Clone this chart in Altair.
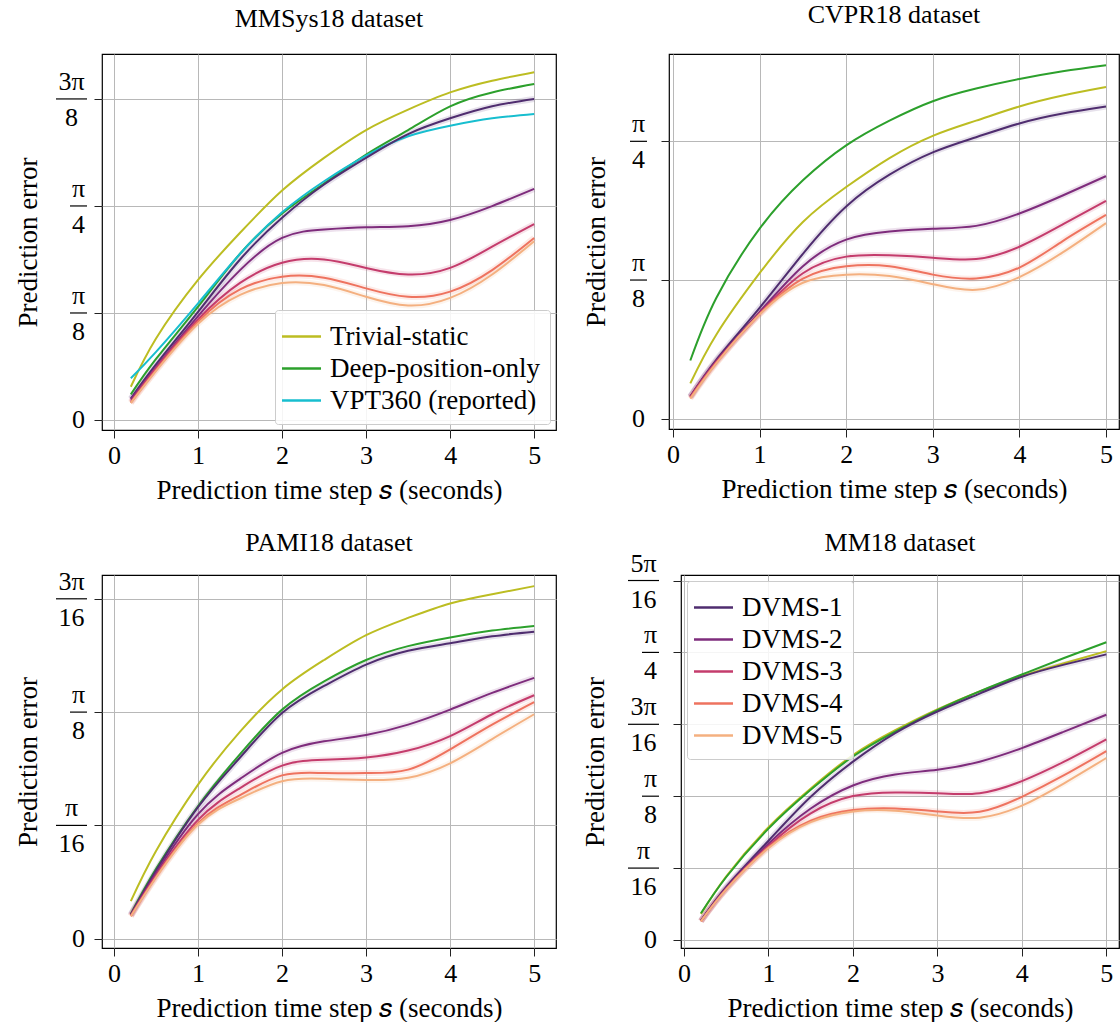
import math
import altair as alt
import pandas as pd

FONT = "Liberation Serif"

TIME = [0.2, 0.5, 1, 1.5, 2, 2.5, 3, 3.5, 4, 4.5, 5]
SERIES = ["Trivial-static", "Deep-position-only", "VPT360 (reported)",
          "DVMS-1", "DVMS-2", "DVMS-3", "DVMS-4", "DVMS-5"]
COLORS = ["#bcbd22", "#2ca02c", "#17becf",
          "#4f2d6f", "#7e2c7c", "#c43c6c", "#ee735f", "#f4b080"]

# ---- MMSys18 dataset (radians) ----
MMSYS_TRIVIAL = [0.122, 0.299, 0.514, 0.687, 0.842, 0.962, 1.064, 1.139, 1.202, 1.245, 1.276]
MMSYS_DEEP = [0.094, 0.224, 0.416, 0.610, 0.758, 0.868, 0.974, 1.064, 1.151, 1.202, 1.233]
MMSYS_VPT360 = [0.153, 0.250, 0.428, 0.610, 0.762, 0.876, 0.970, 1.041, 1.080, 1.107, 1.123]
MMSYS_DVMS1 = [0.079, 0.204, 0.397, 0.589, 0.742, 0.864, 0.962, 1.049, 1.107, 1.151, 1.178]
MMSYS_DVMS2 = [0.075, 0.194, 0.381, 0.550, 0.668, 0.699, 0.707, 0.711, 0.734, 0.785, 0.848]
MMSYS_DVMS3 = [0.067, 0.190, 0.369, 0.503, 0.577, 0.589, 0.558, 0.534, 0.558, 0.636, 0.719]
MMSYS_DVMS4 = [0.063, 0.183, 0.361, 0.479, 0.526, 0.522, 0.483, 0.452, 0.471, 0.550, 0.668]
MMSYS_DVMS5 = [0.063, 0.180, 0.353, 0.459, 0.503, 0.495, 0.452, 0.420, 0.448, 0.534, 0.656]

# ---- CVPR18 dataset ----
CVPR_TRIVIAL = [0.100, 0.238, 0.412, 0.557, 0.656, 0.738, 0.801, 0.844, 0.884, 0.915, 0.939]
CVPR_DEEP = [0.165, 0.342, 0.538, 0.675, 0.774, 0.844, 0.899, 0.935, 0.962, 0.984, 1.001]
CVPR_DVMS1 = [0.063, 0.167, 0.314, 0.467, 0.601, 0.691, 0.754, 0.797, 0.836, 0.864, 0.884]
CVPR_DVMS2 = [0.063, 0.164, 0.302, 0.432, 0.507, 0.530, 0.538, 0.546, 0.581, 0.632, 0.687]
CVPR_DVMS3 = [0.061, 0.161, 0.298, 0.412, 0.459, 0.463, 0.456, 0.452, 0.487, 0.550, 0.617]
CVPR_DVMS4 = [0.059, 0.158, 0.296, 0.397, 0.432, 0.432, 0.408, 0.397, 0.428, 0.503, 0.577]
CVPR_DVMS5 = [0.057, 0.157, 0.295, 0.385, 0.408, 0.404, 0.381, 0.365, 0.401, 0.471, 0.554]

# ---- PAMI18 dataset ----
PAMI_TRIVIAL = [0.065, 0.152, 0.267, 0.359, 0.432, 0.483, 0.526, 0.556, 0.581, 0.597, 0.611]
PAMI_DEEP = [0.043, 0.121, 0.230, 0.320, 0.397, 0.446, 0.483, 0.507, 0.522, 0.534, 0.542]
PAMI_DVMS1 = [0.042, 0.118, 0.228, 0.314, 0.391, 0.438, 0.475, 0.499, 0.512, 0.524, 0.532]
PAMI_DVMS2 = [0.041, 0.114, 0.216, 0.277, 0.322, 0.342, 0.353, 0.371, 0.397, 0.426, 0.452]
PAMI_DVMS3 = [0.040, 0.110, 0.206, 0.261, 0.300, 0.310, 0.314, 0.326, 0.351, 0.389, 0.422]
PAMI_DVMS4 = [0.039, 0.107, 0.200, 0.249, 0.283, 0.287, 0.287, 0.293, 0.328, 0.371, 0.410]
PAMI_DVMS5 = [0.039, 0.106, 0.198, 0.243, 0.273, 0.277, 0.275, 0.279, 0.304, 0.346, 0.389]

# ---- MM18 dataset ----
MM_TRIVIAL = [0.071, 0.174, 0.308, 0.414, 0.505, 0.573, 0.630, 0.679, 0.721, 0.756, 0.789]
MM_DEEP = [0.073, 0.172, 0.304, 0.410, 0.501, 0.569, 0.628, 0.679, 0.725, 0.770, 0.813]
MM_DVMS1 = [0.053, 0.145, 0.271, 0.391, 0.487, 0.565, 0.624, 0.673, 0.719, 0.752, 0.780]
MM_DVMS2 = [0.052, 0.142, 0.263, 0.359, 0.422, 0.452, 0.465, 0.487, 0.524, 0.569, 0.615]
MM_DVMS3 = [0.051, 0.140, 0.257, 0.346, 0.393, 0.403, 0.401, 0.401, 0.434, 0.487, 0.548]
MM_DVMS4 = [0.051, 0.139, 0.253, 0.326, 0.355, 0.359, 0.351, 0.350, 0.391, 0.450, 0.516]
MM_DVMS5 = [0.051, 0.138, 0.251, 0.322, 0.351, 0.353, 0.340, 0.334, 0.367, 0.428, 0.497]

# ---- y tick labels (fractions of pi) ----
PI = math.pi
MMSYS_TICKS = [0, PI / 8, PI / 4, 3 * PI / 8]
MMSYS_NUM = ["0", "π", "π", "3π"]
MMSYS_DEN = ["", "8", "4", "8"]
CVPR_TICKS = [0, PI / 8, PI / 4]
CVPR_NUM = ["0", "π", "π"]
CVPR_DEN = ["", "8", "4"]
PAMI_TICKS = [0, PI / 16, PI / 8, 3 * PI / 16]
PAMI_NUM = ["0", "π", "π", "3π"]
PAMI_DEN = ["", "16", "8", "16"]
MM_TICKS = [0, PI / 16, PI / 8, 3 * PI / 16, PI / 4, 5 * PI / 16]
MM_NUM = ["0", "π", "π", "3π", "π", "5π"]
MM_DEN = ["", "16", "8", "16", "4", "16"]

X_TICKS = [0, 1, 2, 3, 4, 5]
X_TITLE = "Prediction time step 𝑠 (seconds)"
Y_TITLE = "Prediction error"


def panel(title, series, tick_vals, tick_num, tick_den, xdom, ydom, w, h,
          lab_off, ytitle_pad, title_off, legend_vals=None, legend_orient=None):
    rows = []
    for name, vals in series.items():
        for t, v in zip(TIME, vals):
            rows.append({"t": t, "err": v, "series": name})
    df = pd.DataFrame(rows)
    ticks = pd.DataFrame({"err": tick_vals, "num": tick_num, "den": tick_den})

    xs = alt.Scale(domain=xdom, nice=False, zero=False)
    ys = alt.Scale(domain=ydom, nice=False, zero=False)
    X = alt.X("t:Q", scale=xs,
              axis=alt.Axis(values=X_TICKS, format="d", title=X_TITLE, grid=True,
                            titlePadding=9))
    Y = alt.Y("err:Q", scale=ys,
              axis=alt.Axis(values=tick_vals, labels=False, title=Y_TITLE, grid=True,
                            ticks=True, titlePadding=ytitle_pad))
    if legend_vals:
        legend = alt.Legend(values=legend_vals, orient=legend_orient, title=None,
                            labelFont=FONT, labelFontSize=27, labelColor="black",
                            labelLimit=500, symbolType="M-1.3,0H1.3", symbolSize=900,
                            symbolStrokeWidth=2.5, symbolOpacity=1, labelOffset=12,
                            fillColor="rgba(255,255,255,0.85)", strokeColor="#cccccc",
                            padding=10, rowPadding=2, offset=6, cornerRadius=3)
    else:
        legend = None
    C = alt.Color("series:N", scale=alt.Scale(domain=SERIES, range=COLORS),
                  legend=legend)

    base = alt.Chart(df)
    halo = base.transform_filter(
        alt.FieldOneOfPredicate(field="series", oneOf=SERIES[3:])
    ).mark_line(strokeWidth=6, opacity=0.14, interpolate="natural").encode(
        x=X, y=Y, color=C)
    lines = base.mark_line(strokeWidth=2, interpolate="natural").encode(
        x=X, y=Y, color=C)

    tb = alt.Chart(ticks).transform_calculate(
        bw="14*max(length(datum.num), length(datum.den)) + 3"
    ).transform_calculate(
        cx=f"-{lab_off} - datum.bw/2",
        x0=f"-{lab_off} - datum.bw",
        x1=f"-{lab_off}",
    )
    Xc = alt.X("cx:Q", scale=None)
    fr = tb.transform_filter("datum.den != ''")
    nums = fr.mark_text(font=FONT, fontSize=26, baseline="alphabetic", dy=-9,
                        align="center", color="black").encode(x=Xc, y=Y, text="num:N")
    dens = fr.mark_text(font=FONT, fontSize=26, baseline="alphabetic", dy=27,
                        align="center", color="black").encode(x=Xc, y=Y, text="den:N")
    bars = fr.mark_rule(color="black", strokeWidth=1.2).encode(
        x=alt.X("x0:Q", scale=None), x2="x1:Q", y=Y)
    zero = tb.transform_filter("datum.den == ''").mark_text(
        font=FONT, fontSize=26, baseline="middle", align="center", color="black"
    ).encode(x=Xc, y=Y, text="num:N")

    return alt.layer(halo, lines, nums, dens, bars, zero).properties(
        width=w, height=h,
        title=alt.TitleParams(title, offset=title_off, frame="group", font=FONT,
                              fontSize=26, fontWeight="normal", color="black"))


p1 = panel("MMSys18 dataset",
           {"Trivial-static": MMSYS_TRIVIAL, "Deep-position-only": MMSYS_DEEP,
            "VPT360 (reported)": MMSYS_VPT360, "DVMS-1": MMSYS_DVMS1,
            "DVMS-2": MMSYS_DVMS2, "DVMS-3": MMSYS_DVMS3, "DVMS-4": MMSYS_DVMS4,
            "DVMS-5": MMSYS_DVMS5},
           MMSYS_TICKS, MMSYS_NUM, MMSYS_DEN, [-0.143, 5.26], [-0.0367, 1.343],
           454, 376, 15, 51, 22, SERIES[:3], "bottom-right")
p2 = panel("CVPR18 dataset",
           {"Trivial-static": CVPR_TRIVIAL, "Deep-position-only": CVPR_DEEP,
            "DVMS-1": CVPR_DVMS1, "DVMS-2": CVPR_DVMS2, "DVMS-3": CVPR_DVMS3,
            "DVMS-4": CVPR_DVMS4, "DVMS-5": CVPR_DVMS5},
           CVPR_TICKS, CVPR_NUM, CVPR_DEN, [-0.046, 5.15], [-0.029, 1.0326],
           450, 375, 22, 50, 26)
p3 = panel("PAMI18 dataset",
           {"Trivial-static": PAMI_TRIVIAL, "Deep-position-only": PAMI_DEEP,
            "DVMS-1": PAMI_DVMS1, "DVMS-2": PAMI_DVMS2, "DVMS-3": PAMI_DVMS3,
            "DVMS-4": PAMI_DVMS4, "DVMS-5": PAMI_DVMS5},
           PAMI_TICKS, PAMI_NUM, PAMI_DEN, [-0.143, 5.26], [-0.0161, 0.6303],
           454, 373, 15, 51, 13)
p4 = panel("MM18 dataset",
           {"Trivial-static": MM_TRIVIAL, "Deep-position-only": MM_DEEP,
            "DVMS-1": MM_DVMS1, "DVMS-2": MM_DVMS2, "DVMS-3": MM_DVMS3,
            "DVMS-4": MM_DVMS4, "DVMS-5": MM_DVMS5},
           MM_TICKS, MM_NUM, MM_DEN, [-0.036, 5.15], [-0.0219, 0.9968],
           438, 373, 22, 63, -5, SERIES[3:], "top-left")

row1 = alt.hconcat(p1, p2, spacing=113, bounds="flush").resolve_scale(
    color="independent")
row2 = alt.hconcat(p3, p4, spacing=125, bounds="flush").resolve_scale(
    color="independent")

chart = alt.vconcat(row1, row2, spacing=24).resolve_scale(
    color="independent"
).properties(
    padding={"left": 13, "top": 1, "right": 0, "bottom": 0}
).configure(font=FONT).configure_view(
    stroke="black", strokeWidth=1.2
).configure_axis(
    labelFont=FONT, titleFont=FONT, labelFontSize=26, titleFontSize=27,
    titleFontWeight="normal", labelColor="black", titleColor="black",
    tickColor="#222222", tickSize=8, tickWidth=1, domain=False,
    gridColor="#b8b8b8", gridWidth=1, labelPadding=4
)

chart.save("out.html", embed_options={"renderer": "svg", "actions": False})
